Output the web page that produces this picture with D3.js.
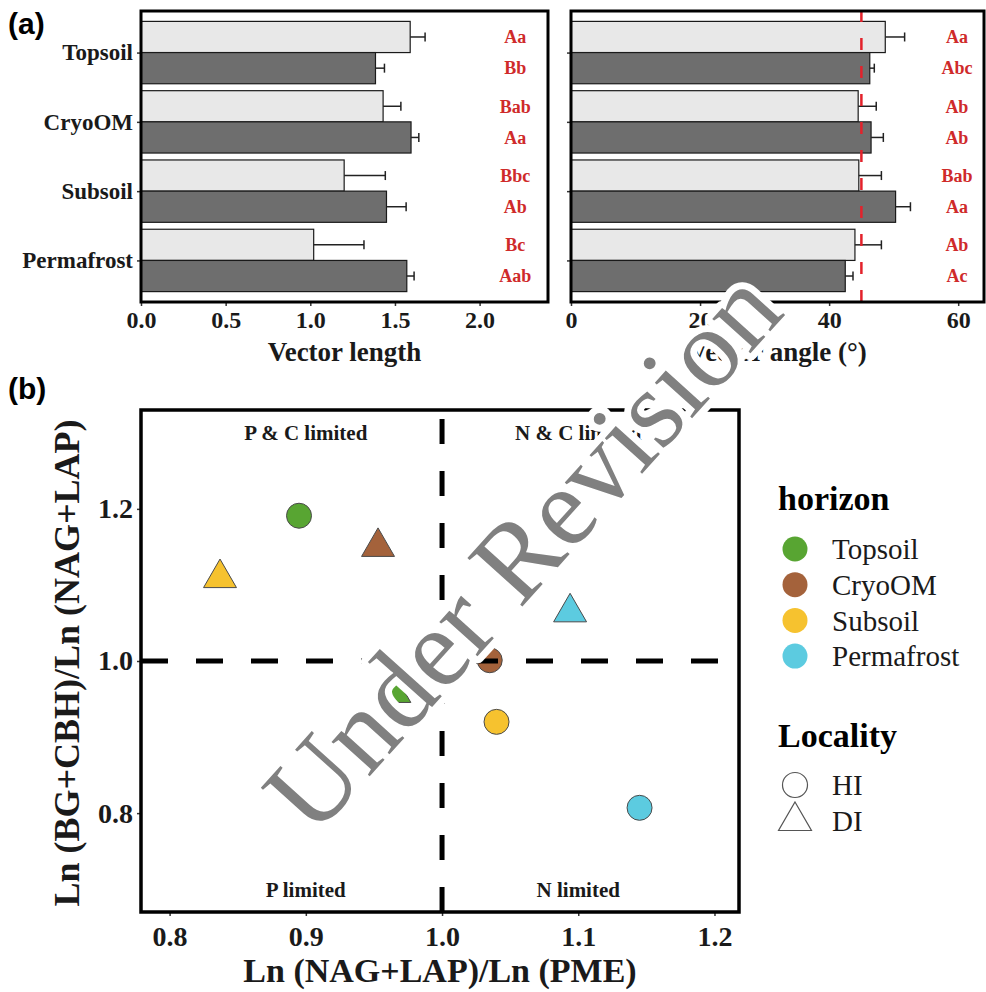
<!DOCTYPE html>
<html>
<head>
<meta charset="utf-8">
<script src="https://cdn.jsdelivr.net/npm/d3@7"></script>
<style>
  body { margin: 0; background: #fff; }
  svg { display: block; }
</style>
</head>
<body>
<svg width="986" height="992"></svg>
<script>
const horizons = ['Topsoil', 'CryoOM', 'Subsoil', 'Permafrost']
const horizonColors = ['#58a532', '#a4623b', '#f6c22f', '#5ccbe0']

// (a) vector length, light bars = HI, dark bars = DI
const lengthHI = [1.59, 1.43, 1.20, 1.02]
const lengthHIse = [0.088, 0.105, 0.243, 0.297]
const lengthDI = [1.385, 1.595, 1.45, 1.57]
const lengthDIse = [0.053, 0.046, 0.116, 0.043]
const lengthLettersHI = ['Aa', 'Bab', 'Bbc', 'Bc']
const lengthLettersDI = ['Bb', 'Aa', 'Ab', 'Aab']
const lengthTicks = [0, 0.5, 1.0, 1.5, 2.0]

// (a) vector angle
const angleHI = [48.7, 44.5, 44.6, 44.0]
const angleHIse = [3.0, 2.8, 3.5, 4.1]
const angleDI = [46.3, 46.5, 50.3, 42.5]
const angleDIse = [0.7, 1.9, 2.3, 1.2]
const angleLettersHI = ['Aa', 'Ab', 'Bab', 'Ab']
const angleLettersDI = ['Abc', 'Ab', 'Aa', 'Ac']
const angleTicks = [0, 20, 40, 60]

// (b) enzyme ratios
const ratioXHI = [0.895, 1.035, 1.040, 1.145]
const ratioYHI = [1.191, 1.001, 0.920, 0.807]
const ratioXDI = [0.965, 0.953, 0.837, 1.094]
const ratioYDI = [0.958, 1.150, 1.109, 1.064]
const ratioTicksX = [0.8, 0.9, 1.0, 1.1, 1.2]
const ratioTicksY = [0.8, 1.0, 1.2]
const quadrantLabels = ['P & C limited', 'N & C limited', 'P limited', 'N limited']
const quadrantX = [0.9, 1.1, 0.9, 1.1]
const quadrantY = [1.3, 1.3, 0.7, 0.7]

const svg = d3.select('svg')
const serif = '"Liberation Serif", "Times New Roman", serif'

function barPanel (opt) {
  const g = svg.append('g')
  const x = d3.scaleLinear().domain([0, opt.max]).range([opt.x0, opt.x1])
  const y = d3.scalePoint().domain(horizons).range([11, 302]).padding(0.6)
  const bw = y.step() * 0.45

  const rows = horizons.map(function (h, i) {
    return [
      { h: h, v: opt.hi[i], se: opt.hiSe[i], lab: opt.hiLet[i], off: -bw, fill: '#e8e8e8' },
      { h: h, v: opt.di[i], se: opt.diSe[i], lab: opt.diLet[i], off: 0, fill: '#6e6e6e' }
    ]
  }).flat()

  g.selectAll('.bar')
    .data(rows)
    .enter()
    .append('rect')
    .attr('x', x(0))
    .attr('y', function (d) { return y(d.h) + d.off })
    .attr('width', function (d) { return x(d.v) - x(0) })
    .attr('height', bw)
    .attr('fill', function (d) { return d.fill })
    .attr('stroke', '#1a1a1a')
    .attr('stroke-width', 1.2)

  const err = g.selectAll('.err').data(rows).enter().append('g')
  err.append('line')
    .attr('x1', function (d) { return x(d.v) })
    .attr('x2', function (d) { return x(d.v + d.se) })
    .attr('y1', function (d) { return y(d.h) + d.off + bw / 2 })
    .attr('y2', function (d) { return y(d.h) + d.off + bw / 2 })
    .attr('stroke', '#222')
    .attr('stroke-width', 1.5)
  err.append('line')
    .attr('x1', function (d) { return x(d.v + d.se) })
    .attr('x2', function (d) { return x(d.v + d.se) })
    .attr('y1', function (d) { return y(d.h) + d.off + bw / 2 - 4.5 })
    .attr('y2', function (d) { return y(d.h) + d.off + bw / 2 + 4.5 })
    .attr('stroke', '#222')
    .attr('stroke-width', 1.5)

  g.selectAll('.let')
    .data(rows)
    .enter()
    .append('text')
    .attr('x', x(opt.letterAt))
    .attr('y', function (d) { return y(d.h) + d.off + bw / 2 })
    .attr('dy', '0.35em')
    .attr('text-anchor', 'middle')
    .style('font-family', serif)
    .style('font-weight', 'bold')
    .style('font-size', '18px')
    .style('fill', '#cf2a2a')
    .text(function (d) { return d.lab })

  if (opt.ref) {
    g.append('line')
      .attr('x1', x(opt.ref)).attr('x2', x(opt.ref))
      .attr('y1', 302).attr('y2', 11)
      .attr('stroke', '#e3222b')
      .attr('stroke-width', 2.5)
      .attr('stroke-dasharray', '12,16')
  }

  const xAxis = g.append('g')
    .attr('transform', 'translate(0,302)')
    .call(d3.axisBottom(x).tickValues(opt.ticks).tickFormat(opt.fmt).tickSize(4).tickPadding(5))
  const yAxis = g.append('g')
    .attr('transform', 'translate(' + opt.x0 + ',0)')
    .call(d3.axisLeft(y).tickSize(4).tickPadding(4).tickFormat(opt.labels ? null : ''))
  ;[xAxis, yAxis].forEach(function (a) {
    a.select('.domain').remove()
    a.selectAll('line').attr('stroke', '#333').attr('stroke-width', 1.5)
    a.selectAll('text')
      .style('font-family', serif)
      .style('font-weight', 'bold')
      .style('fill', '#1a1a1a')
  })
  xAxis.selectAll('text').style('font-size', '24px')
  yAxis.selectAll('text').style('font-size', '23px')

  g.append('rect')
    .attr('x', opt.x0).attr('y', 11)
    .attr('width', opt.x1 - opt.x0).attr('height', 291)
    .attr('fill', 'none')
    .attr('stroke', '#000')
    .attr('stroke-width', 3)

  g.append('text')
    .attr('x', (opt.x0 + opt.x1) / 2)
    .attr('y', 361)
    .attr('text-anchor', 'middle')
    .style('font-family', serif)
    .style('font-weight', 'bold')
    .style('font-size', '27px')
    .style('fill', '#1a1a1a')
    .text(opt.title)
}

barPanel({
  x0: 141, x1: 548, max: 2.404, ticks: lengthTicks, fmt: d3.format('.1f'),
  hi: lengthHI, hiSe: lengthHIse, di: lengthDI, diSe: lengthDIse,
  hiLet: lengthLettersHI, diLet: lengthLettersDI, letterAt: 2.21,
  title: 'Vector length', labels: true
})

barPanel({
  x0: 571, x1: 984, max: 64, ticks: angleTicks, fmt: d3.format('d'),
  hi: angleHI, hiSe: angleHIse, di: angleDI, diSe: angleDIse,
  hiLet: angleLettersHI, diLet: angleLettersDI, letterAt: 59.8,
  title: 'Vector angle (°)', labels: false, ref: 45
})

// panel (b)
const xs = d3.scaleLinear().domain([0.779, 1.218]).range([141, 739])
const ys = d3.scaleLinear().domain([0.67, 1.33]).range([912, 410])
const tri = d3.symbol(d3.symbolTriangle, 470)

const pointsHI = horizons.map(function (h, i) {
  return { x: ratioXHI[i], y: ratioYHI[i], c: horizonColors[i] }
})
const pointsDI = horizons.map(function (h, i) {
  return { x: ratioXDI[i], y: ratioYDI[i], c: horizonColors[i] }
})

const gb = svg.append('g')

gb.selectAll('.hi')
  .data(pointsHI)
  .enter()
  .append('circle')
  .attr('cx', function (d) { return xs(d.x) })
  .attr('cy', function (d) { return ys(d.y) })
  .attr('r', 12.5)
  .attr('fill', function (d) { return d.c })
  .attr('stroke', '#4a4a4a')
  .attr('stroke-width', 1)

gb.selectAll('.di')
  .data(pointsDI)
  .enter()
  .append('path')
  .attr('d', tri)
  .attr('transform', function (d) { return 'translate(' + xs(d.x) + ',' + ys(d.y) + ')' })
  .attr('fill', function (d) { return d.c })
  .attr('stroke', '#4a4a4a')
  .attr('stroke-width', 1)

gb.append('line')
  .attr('x1', 141).attr('x2', 739)
  .attr('y1', ys(1)).attr('y2', ys(1))
  .attr('stroke', '#000')
  .attr('stroke-width', 5)
  .attr('stroke-dasharray', '27,28')

gb.append('line')
  .attr('x1', xs(1)).attr('x2', xs(1))
  .attr('y1', 912).attr('y2', 410)
  .attr('stroke', '#000')
  .attr('stroke-width', 5)
  .attr('stroke-dasharray', '25,27')

gb.selectAll('.quad')
  .data(quadrantLabels)
  .enter()
  .append('text')
  .attr('x', function (d, i) { return xs(quadrantX[i]) })
  .attr('y', function (d, i) { return ys(quadrantY[i]) })
  .attr('dy', '0.35em')
  .attr('text-anchor', 'middle')
  .style('font-family', serif)
  .style('font-weight', 'bold')
  .style('font-size', '21px')
  .style('fill', '#1a1a1a')
  .text(function (d) { return d })

const bx = gb.append('g')
  .attr('transform', 'translate(0,912)')
  .call(d3.axisBottom(xs).tickValues(ratioTicksX).tickFormat(d3.format('.1f')).tickSize(4).tickPadding(10))
const by = gb.append('g')
  .attr('transform', 'translate(141,0)')
  .call(d3.axisLeft(ys).tickValues(ratioTicksY).tickFormat(d3.format('.1f')).tickSize(4).tickPadding(4))
;[bx, by].forEach(function (a) {
  a.select('.domain').remove()
  a.selectAll('line').attr('stroke', '#333').attr('stroke-width', 1.5)
  a.selectAll('text')
    .style('font-family', serif)
    .style('font-weight', 'bold')
    .style('font-size', '28px')
    .style('fill', '#1a1a1a')
})

gb.append('rect')
  .attr('x', 141).attr('y', 410)
  .attr('width', 598).attr('height', 502)
  .attr('fill', 'none')
  .attr('stroke', '#000')
  .attr('stroke-width', 3.5)

gb.append('text')
  .attr('x', 440)
  .attr('y', 982)
  .attr('text-anchor', 'middle')
  .style('font-family', serif)
  .style('font-weight', 'bold')
  .style('font-size', '34px')
  .style('fill', '#1a1a1a')
  .text('Ln (NAG+LAP)/Ln (PME)')

gb.append('text')
  .attr('transform', 'translate(66,663) rotate(-90)')
  .attr('dy', '0.35em')
  .attr('text-anchor', 'middle')
  .style('font-family', serif)
  .style('font-weight', 'bold')
  .style('font-size', '36px')
  .style('fill', '#1a1a1a')
  .text('Ln (BG+CBH)/Ln (NAG+LAP)')

// legends
const lg = svg.append('g')
lg.append('text')
  .attr('x', 778).attr('y', 510)
  .style('font-family', serif).style('font-weight', 'bold').style('font-size', '34px')
  .text('horizon')

lg.selectAll('.hk')
  .data(horizons)
  .enter()
  .append('circle')
  .attr('cx', 795)
  .attr('cy', function (d, i) { return 549 + i * 35.7 })
  .attr('r', 12.5)
  .attr('fill', function (d, i) { return horizonColors[i] })

lg.selectAll('.hl')
  .data(horizons)
  .enter()
  .append('text')
  .attr('x', 832)
  .attr('y', function (d, i) { return 549 + i * 35.7 })
  .attr('dy', '0.35em')
  .style('font-family', serif).style('font-size', '29px').style('fill', '#1a1a1a')
  .text(function (d) { return d })

lg.append('text')
  .attr('x', 778).attr('y', 747)
  .style('font-family', serif).style('font-weight', 'bold').style('font-size', '34px')
  .text('Locality')

lg.append('circle')
  .attr('cx', 795).attr('cy', 785).attr('r', 12.5)
  .attr('fill', 'none').attr('stroke', '#555').attr('stroke-width', 1.2)
lg.append('path')
  .attr('d', tri)
  .attr('transform', 'translate(795,821)')
  .attr('fill', 'none').attr('stroke', '#555').attr('stroke-width', 1.2)
lg.selectAll('.ll')
  .data(['HI', 'DI'])
  .enter()
  .append('text')
  .attr('x', 832)
  .attr('y', function (d, i) { return 785 + i * 36 })
  .attr('dy', '0.35em')
  .style('font-family', serif).style('font-size', '29px').style('fill', '#1a1a1a')
  .text(function (d) { return d })

// panel tags
svg.append('text').attr('x', 8).attr('y', 34)
  .style('font-family', '"Liberation Sans", Arial, sans-serif').style('font-weight', 'bold').style('font-size', '30px')
  .text('(a)')
svg.append('text').attr('x', 8).attr('y', 399)
  .style('font-family', '"Liberation Sans", Arial, sans-serif').style('font-weight', 'bold').style('font-size', '30px')
  .text('(b)')

// watermark
svg.append('text')
  .attr('transform', 'translate(550,576) rotate(-48)')
  .attr('text-anchor', 'middle')
  .style('font-family', serif)
  .style('font-size', '112px')
  .style('fill', '#808080')
  .style('stroke', '#fff')
  .style('stroke-width', '14px')
  .style('stroke-linejoin', 'round')
  .style('paint-order', 'stroke')
  .text('Under Revision')
</script>
</body>
</html>
